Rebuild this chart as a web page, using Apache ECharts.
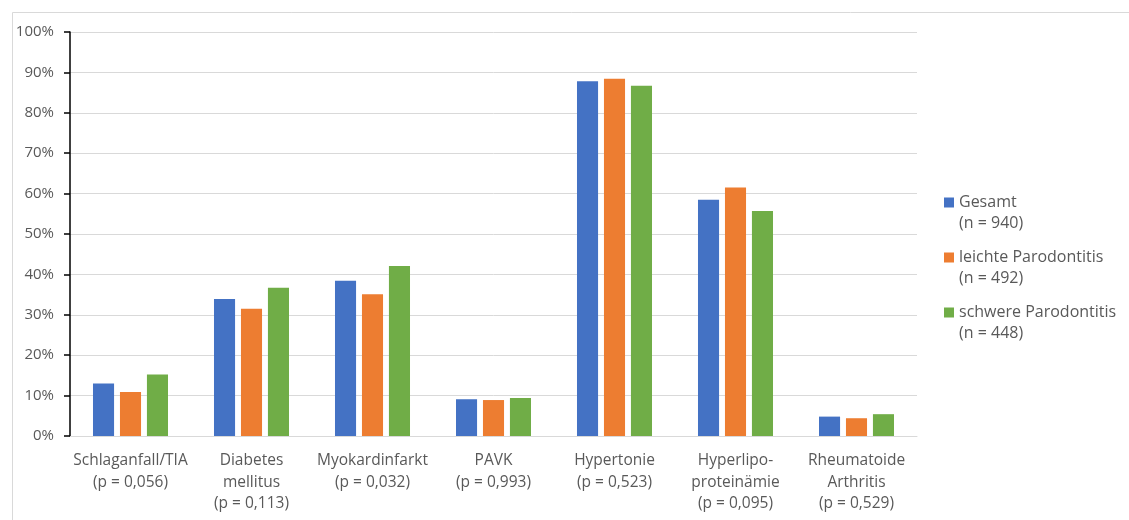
<!DOCTYPE html>
<html>
<head>
<meta charset="utf-8">
<script src="https://cdn.jsdelivr.net/npm/echarts@6/dist/echarts.min.js"></script>
<style>
  html, body { margin: 0; padding: 0; background: #ffffff; }
  #chart { width: 1129px; height: 520px; }
</style>
</head>
<body>
<div id="chart"></div>
<script>
// Disease categories with their p-values
const categories = [
  'Schlaganfall/TIA\n(p = 0,056)',
  'Diabetes\nmellitus\n(p = 0,113)',
  'Myokardinfarkt\n(p = 0,032)',
  'PAVK\n(p = 0,993)',
  'Hypertonie\n(p = 0,523)',
  'Hyperlipo-\nproteinämie\n(p = 0,095)',
  'Rheumatoide\nArthritis\n(p = 0,529)'
];

// Prevalence in percent per group
const gesamt = [13.0, 33.9, 38.4, 9.1, 87.8, 58.5, 4.8];
const leicht = [10.9, 31.5, 35.1, 8.9, 88.4, 61.5, 4.4];
const schwer = [15.2, 36.7, 42.1, 9.4, 86.7, 55.7, 5.4];

const seriesNames = [
  'Gesamt\n(n = 940)',
  'leichte Parodontitis\n(n = 492)',
  'schwere Parodontitis\n(n = 448)'
];
const colors = ['#4472C4', '#ED7D31', '#70AD47'];

const FONT = 'Open Sans';
const TEXT = '#595959';

// Legend marker: a square beside the first text line of a two-line entry
const LEGEND_ICON = 'path://M0,0 M0,5.5h10v10h-10z M0,42';

const chart = echarts.init(document.getElementById('chart'), null, { renderer: 'canvas' });

const mkBar = (name, data, color) => ({
  name: name,
  type: 'bar',
  data: data,
  barGap: '28%',
  barCategoryGap: '38%',
  itemStyle: { color: color },
  emphasis: { disabled: true }
});

chart.setOption({
  animation: false,
  backgroundColor: '#ffffff',
  textStyle: { fontFamily: FONT },
  graphic: [{
    type: 'rect',
    left: 10, top: 10,
    shape: { width: 1200, height: 600 },
    style: { fill: 'none', stroke: '#d9d9d9', lineWidth: 1 },
    silent: true
  }],
  grid: { left: 70, right: 212, top: 32, bottom: 84, containLabel: false },
  legend: {
    orient: 'vertical',
    left: 944,
    top: 192,
    padding: 0,
    itemWidth: 10,
    itemHeight: 42,
    itemGap: 13,
    icon: LEGEND_ICON,
    selectedMode: false,
    textStyle: {
      fontFamily: FONT,
      fontSize: 16,
      color: TEXT,
      lineHeight: 21
    },
    data: seriesNames
  },
  xAxis: {
    type: 'category',
    data: categories,
    axisLine: { lineStyle: { color: '#d9d9d9', width: 1 } },
    axisTick: { show: false },
    axisLabel: {
      interval: 0,
      margin: 14,
      fontFamily: FONT,
      fontSize: 15.5,
      color: TEXT,
      lineHeight: 21.5,
      align: 'center'
    }
  },
  yAxis: {
    type: 'value',
    min: 0,
    max: 100,
    interval: 10,
    axisLine: { show: true, lineStyle: { color: '#000000', width: 1.5 } },
    axisTick: { show: true, length: 6, lineStyle: { color: '#000000', width: 1.5 } },
    splitLine: { lineStyle: { color: '#d9d9d9', width: 1 } },
    axisLabel: {
      formatter: '{value}%',
      margin: 16,
      fontFamily: FONT,
      fontSize: 15,
      color: TEXT
    }
  },
  series: [
    mkBar(seriesNames[0], gesamt, colors[0]),
    mkBar(seriesNames[1], leicht, colors[1]),
    mkBar(seriesNames[2], schwer, colors[2])
  ]
});
</script>
</body>
</html>
